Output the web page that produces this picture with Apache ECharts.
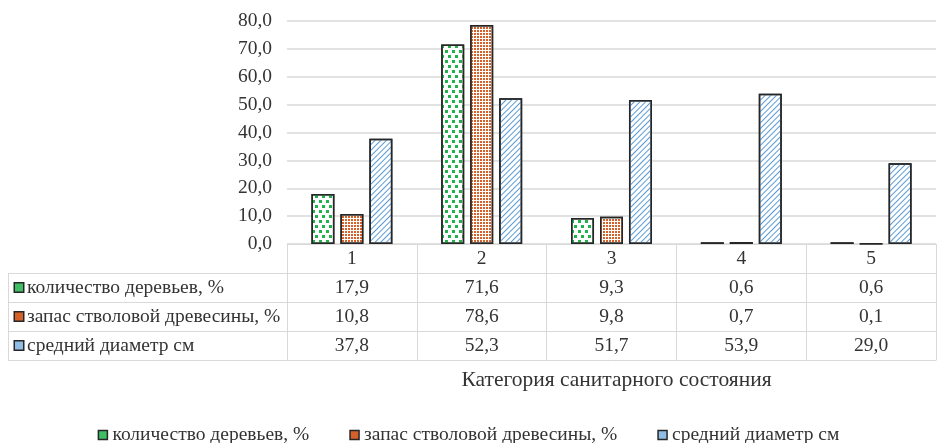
<!DOCTYPE html>
<html><head><meta charset="utf-8">
<script src="https://cdn.jsdelivr.net/npm/echarts@6/dist/echarts.min.js"></script>
<style>html,body{margin:0;padding:0;background:#fff}#c{width:937px;height:443px}</style>
</head><body><div id="c"></div>
<script>
const categories = ['1', '2', '3', '4', '5'];
const seriesNames = ['количество деревьев, %', 'запас стволовой древесины, %', 'средний диаметр см'];
const treesCount = [17.9, 71.6, 9.3, 0.6, 0.6];
const woodStock = [10.8, 78.6, 9.8, 0.7, 0.1];
const meanDiameter = [37.8, 52.3, 51.7, 53.9, 29.0];
const yTicks = { min: 0, max: 80, interval: 10 };
const axisTitle = 'Категория санитарного состояния';

const FONT = 'Liberation Serif';
const FS = 19.5;
const TXT = '#333';
const LINE = '#d9d9d9';
const fmt = v => v.toFixed(1).replace('.', ',');

const chart = echarts.init(document.getElementById('c'));
const tableAxis = (data, offset, showLabel) => ({
  type: 'category', gridIndex: 0, position: 'bottom', offset: offset,
  data: data,
  axisLine: { show: true, lineStyle: { color: LINE, width: 1 } },
  axisTick: { show: showLabel, length: 29, lineStyle: { color: LINE, width: 1 } },
  axisLabel: { show: showLabel, margin: 5, fontFamily: FONT, fontSize: FS, color: TXT, interval: 0 },
  splitLine: { show: false }
});

const decals = [
  { symbol: 'rect', symbolSize: 1, color: '#21b24b', dashArrayX: [[3, 4], [0, 4, 3, 0]], dashArrayY: [3, 2] },
  { symbol: 'rect', symbolSize: 1, color: '#d5612a', dashArrayX: [2, 1], dashArrayY: [2, 1] },
  { symbol: 'rect', symbolSize: 1, color: '#5b9bd5', dashArrayX: [[1, 0]], dashArrayY: [1, 3], rotation: -Math.PI / 4 }
];
const fills = ['#ffffff', '#ffffff', '#ffffff'];
const legendFills = ['#3fbf63', '#d5612a', '#8fbde6'];
const values = [treesCount, woodStock, meanDiameter];

const xAxisName = tableAxis([], 116, false);
xAxisName.data = categories;
xAxisName.name = axisTitle;
xAxisName.nameLocation = 'middle';
xAxisName.nameGap = 9;
xAxisName.nameTextStyle = { fontFamily: FONT, fontSize: 21.5, color: TXT, padding: [0, 0, 0, 10] };

const legendData = seriesNames.map((n, i) => ({
  name: n, icon: 'rect',
  itemStyle: { color: legendFills[i], borderColor: '#262626', borderWidth: 1.5, decal: 'none' }
}));

// rich-text icons for the table row headers
const rich = { t: { fontFamily: FONT, fontSize: FS, color: TXT, padding: [0, 0, 0, 4] } };
legendFills.forEach((c, i) => {
  rich['i' + i] = { width: 8, height: 8, backgroundColor: c, borderColor: '#262626', borderWidth: 1.5 };
});

chart.setOption({
  animation: false,
  textStyle: { fontFamily: FONT },
  grid: [
    { left: 287, right: 1, top: 21, height: 223 },
    { left: 8, width: 279, top: 273, height: 87 }
  ],
  legend: {
    data: legendData, orient: 'horizontal', left: 'center', top: 425, itemGap: 40, padding: 0,
    itemWidth: 9, itemHeight: 9,
    textStyle: { fontFamily: FONT, fontSize: FS, color: TXT }
  },
  xAxis: [
    tableAxis(categories, 0, true),
    tableAxis(treesCount.map(fmt), 29, true),
    tableAxis(woodStock.map(fmt), 58, true),
    tableAxis(meanDiameter.map(fmt), 87, true),
    xAxisName,
    {
      type: 'category', gridIndex: 1, data: [''],
      axisLine: { show: false }, axisTick: { show: false }, axisLabel: { show: false },
      splitLine: { show: true, lineStyle: { color: LINE, width: 1 } }
    }
  ],
  yAxis: [
    {
      type: 'value', gridIndex: 0, min: yTicks.min, max: yTicks.max, interval: yTicks.interval,
      axisLine: { show: false }, axisTick: { show: false },
      axisLabel: { formatter: fmt, margin: 15, fontFamily: FONT, fontSize: FS, color: TXT },
      splitLine: { show: true, lineStyle: { color: LINE, width: 1.5 } }
    },
    {
      type: 'category', gridIndex: 1, data: seriesNames, inverse: true,
      axisLine: { show: false }, axisTick: { show: false },
      axisLabel: {
        inside: true, align: 'left', margin: 7, interval: 0,
        formatter: (v, i) => '{i' + i + '|}{t|' + v + '}', rich: rich
      },
      splitLine: { show: true, lineStyle: { color: LINE, width: 1 } }
    }
  ],
  series: seriesNames.map((name, i) => ({
    name: name, type: 'bar', xAxisIndex: 0, yAxisIndex: 0,
    data: values[i], barWidth: 23, barGap: '26%',
    itemStyle: { color: fills[i], borderColor: '#262626', borderWidth: 1.5, decal: decals[i] }
  }))
});
</script></body></html>
